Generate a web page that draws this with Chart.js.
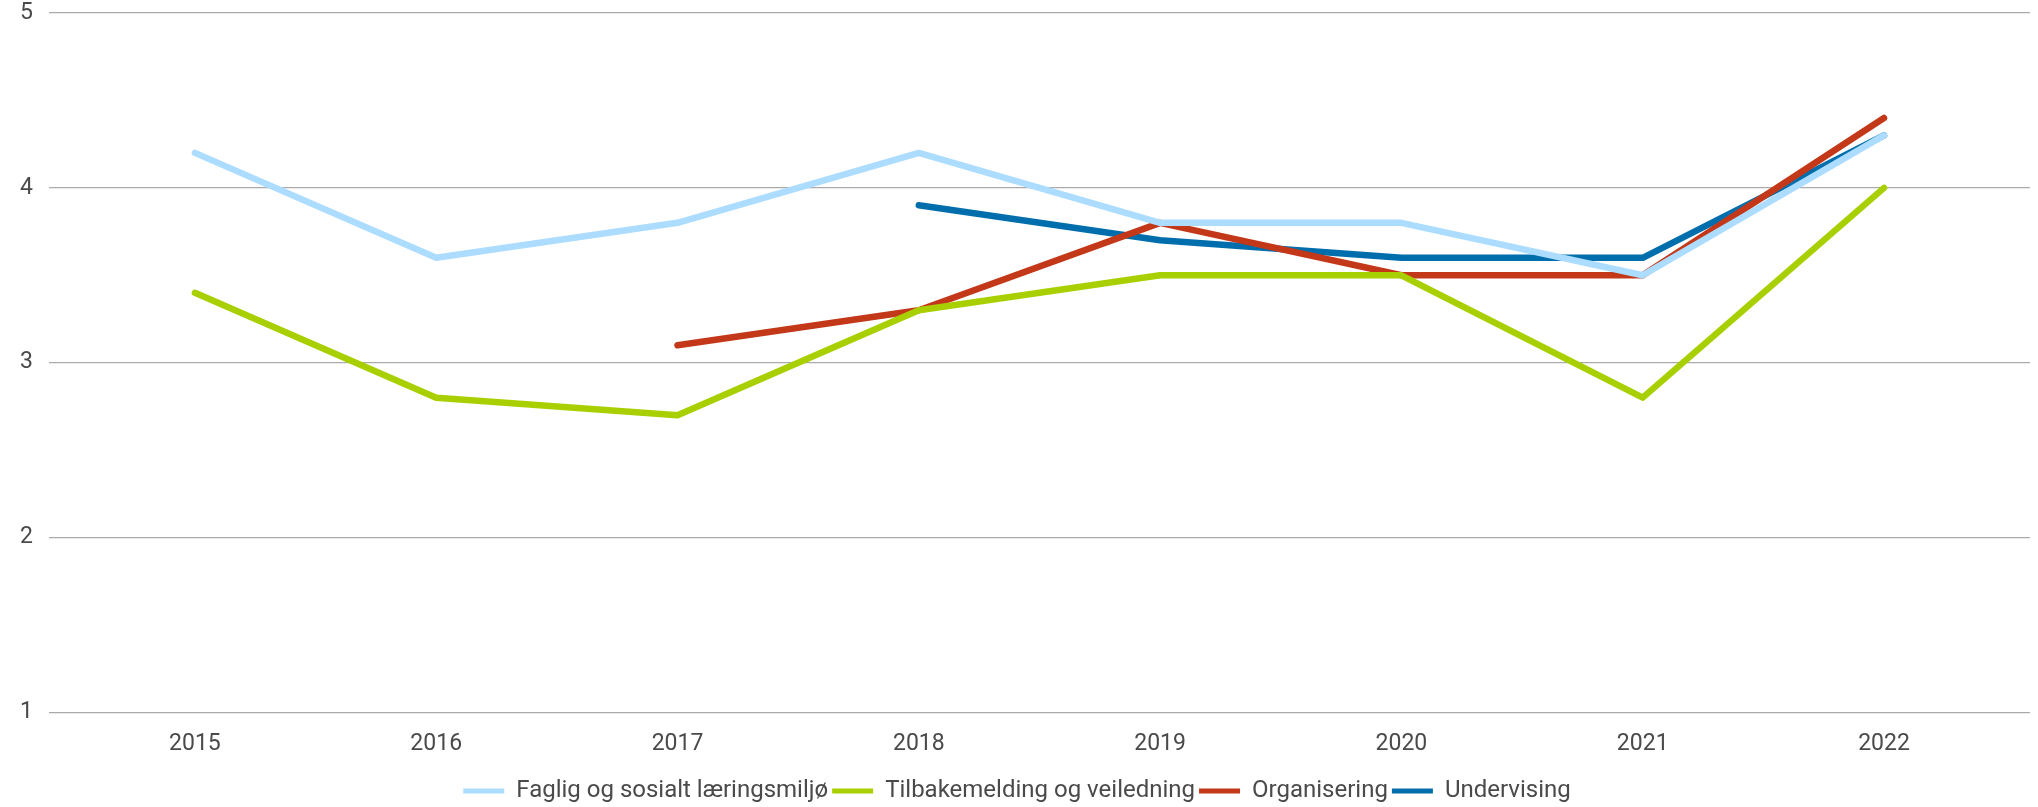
<!DOCTYPE html>
<html>
<head>
<meta charset="utf-8">
<script src="https://cdn.jsdelivr.net/npm/chart.js@4/dist/chart.umd.min.js"></script>
<style>
  html,body{margin:0;padding:0;background:#fff;}
  #wrap{width:2038px;height:807px;}
</style>
</head>
<body>
<div id="wrap"><canvas id="chart"></canvas></div>
<script>
// data
const years = [2015, 2016, 2017, 2018, 2019, 2020, 2021, 2022];
const seriesNames = ['Faglig og sosialt læringsmiljø', 'Tilbakemelding og veiledning', 'Organisering', 'Undervising'];
const faglig = [4.2, 3.6, 3.8, 4.2, 3.8, 3.8, 3.5, 4.3];
const tilbakemelding = [3.4, 2.8, 2.7, 3.3, 3.5, 3.5, 2.8, 4.0];
const organisering = [null, null, 3.1, 3.3, 3.8, 3.5, 3.5, 4.4];
const undervising = [null, null, null, 3.9, 3.7, 3.6, 3.6, 4.3];
const yTicks = [1, 2, 3, 4, 5];

const colors = ['#acdcff', '#a8d000', '#c4381a', '#006ead'];

function punkter(vals){
  // pair years with values, drop missing years
  return years.map((y,i)=>({x:y, y:vals[i]})).filter(p=>p.y!==null);
}

const allVals = [faglig, tilbakemelding, organisering, undervising];
const datasets = seriesNames.map((navn,i)=>({
  label: navn,
  data: punkter(allVals[i]),
  borderColor: colors[i],
  backgroundColor: colors[i],
  borderWidth: 6.5,
  borderCapStyle: 'round',
  borderJoinStyle: 'round',
  pointRadius: 0,
  tension: 0
}));

Chart.defaults.font.family = 'Roboto, "Noto Sans", sans-serif';
Chart.defaults.color = '#4a4a4a';

new Chart(document.getElementById('chart'), {
  type: 'line',
  data: {datasets},
  options: {
    responsive: true,
    maintainAspectRatio: false,
    animation: false,
    layout: {padding: {top: 0, right: 8, left: 4, bottom: -6}},
    scales: {
      x: {
        type: 'linear',
        min: years[0] - 0.605,
        max: years[years.length-1] + 0.605,
        border: {display: false},
        grid: {display: false},
        afterBuildTicks: axis => { axis.ticks = years.map(v=>({value:v})); },
        afterFit: axis => { axis.height += 7; },
        ticks: {
          font: {size: 23},
          padding: 10,
          maxRotation: 0,
          callback: v => String(v)
        }
      },
      y: {
        min: 1,
        max: 5,
        border: {display: false},
        grid: {color: '#ababab', lineWidth: 1.2, drawTicks: false},
        afterBuildTicks: axis => { axis.ticks = yTicks.map(v=>({value:v})); },
        afterFit: axis => { axis.paddingTop = 13; },
        ticks: {font: {size: 23}, padding: 16}
      }
    },
    plugins: {
      tooltip: {enabled: false},
      legend: {
        position: 'bottom',
        labels: {
          boxWidth: 41,
          boxHeight: 5,
          padding: 4,
          font: {size: 24, lineHeight: 1},
          generateLabels: chart => {
            const items = Chart.defaults.plugins.legend.labels.generateLabels(chart);
            items.forEach(it=>{ it.lineWidth = 0; });
            return items;
          }
        }
      }
    }
  }
});
</script>
</body>
</html>
